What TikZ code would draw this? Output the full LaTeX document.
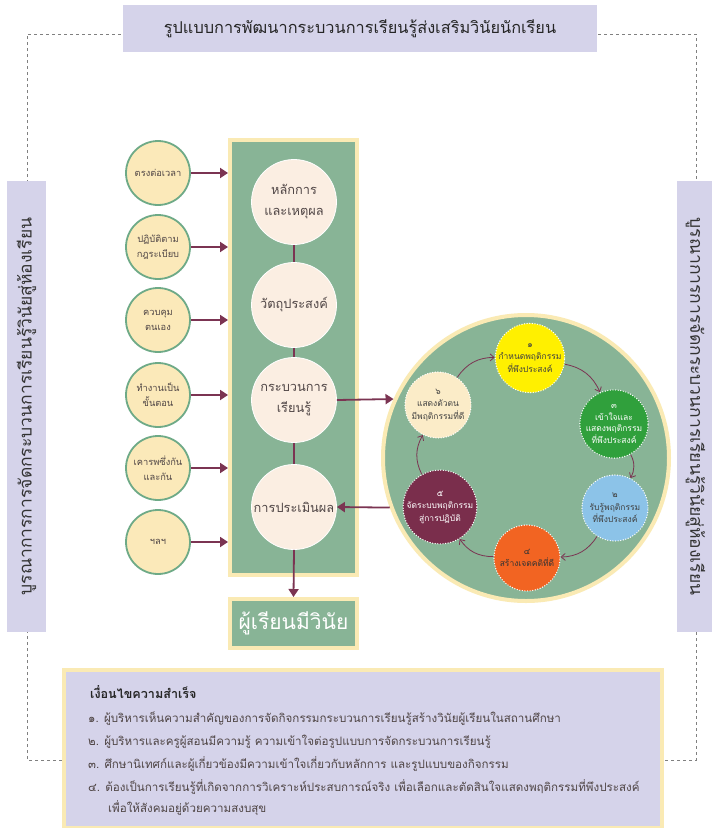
\documentclass[tikz,border=0pt]{standalone}
\usepackage{fontspec}
\setmainfont[Script=Thai]{Loma}
\usetikzlibrary{arrows.meta}
\definecolor{lav}{RGB}{213,211,234}
\definecolor{lyel}{RGB}{250,234,180}
\definecolor{sage}{RGB}{136,180,150}
\definecolor{cream}{RGB}{251,233,185}
\definecolor{cgreen}{RGB}{110,170,135}
\definecolor{peach}{RGB}{251,238,226}
\definecolor{maroon}{RGB}{123,52,82}
\definecolor{txtgray}{RGB}{80,70,70}
\definecolor{cyyel}{RGB}{255,240,0}
\definecolor{cygreen}{RGB}{48,160,60}
\definecolor{cyblue}{RGB}{140,195,232}
\definecolor{cyorange}{RGB}{242,100,34}
\definecolor{cymaroon}{RGB}{122,46,76}
\definecolor{cycream}{RGB}{251,236,200}
\begin{document}
\begin{tikzpicture}[x=1pt,y=-1pt,
  lavbox/.style={fill=lav, draw=none, inner sep=0pt},
  leftc/.style={circle, fill=cream, draw=cgreen, line width=1.8pt, minimum size=64pt, inner sep=0pt, align=center, font=\fontsize{9.3}{15}\selectfont, text=txtgray},
  midc/.style={circle, fill=peach, draw=white, line width=0.8pt, minimum size=85pt, inner sep=0pt, align=center, font=\fontsize{12.8}{21}\selectfont, text=txtgray},
  cyc/.style={circle, minimum size=66pt, inner sep=0pt, align=center, draw=white, line width=1.4pt, dash pattern=on 0pt off 2.6pt, line cap=round, font=\fontsize{8.5}{12.5}\selectfont},
  marrow/.style={draw=maroon, line width=1.8pt, -{Triangle[length=8pt,width=10pt]}},
  mline/.style={draw=maroon, line width=1.8pt},
  cycarrow/.style={draw=maroon, line width=0.8pt, -{Straight Barb[length=4pt,width=7pt]}},
  condtext/.style={anchor=base west, font=\fontsize{11.6}{13}\selectfont, text=txtgray, inner sep=0pt}
]
\useasboundingbox (0,0) rectangle (712,828);
\fill[white] (0,0) rectangle (712,828);
% dashed frame
\draw[gray, dashed, line width=0.8pt] (62,760) -- (27,760) -- (27,34) -- (696,34) -- (696,760) -- (657,760);
% title
\node[lavbox, minimum width=474pt, minimum height=47pt, font=\fontsize{16.3}{18}\selectfont, text=black!85] (title) at (360,28.5) {รูปแบบการพัฒนากระบวนการเรียนรู้ส่งเสริมวินัยนักเรียน};
% side boxes
\node[lavbox, rotate=90, minimum width=451pt, minimum height=39pt, font=\fontsize{17.5}{19}\selectfont, text=black!80] (lbox) at (26.5,406.5) {บูรณาการการจัดกระบวนการเรียนรู้วินัยสู่ห้องเรียน};
\node[lavbox, rotate=-90, minimum width=451pt, minimum height=37pt, font=\fontsize{17.5}{19}\selectfont, text=black!80] (rbox) at (695.5,406.5) {บูรณาการการจัดกระบวนการเรียนรู้วินัยสู่ห้องเรียน};
% green column
\node[fill=sage, draw=lyel, line width=4pt, minimum width=127pt, minimum height=435pt] (grect) at (293.5,357.5) {};
% left circles
\node[leftc] (l1) at (158,173) {ตรงต่อเวลา};
\node[leftc] (l2) at (158,247) {ปฏิบัติตาม\\กฎระเบียบ};
\node[leftc] (l3) at (158,320) {ควบคุม\\ตนเอง};
\node[leftc] (l4) at (158,395) {ทำงานเป็น\\ขั้นตอน};
\node[leftc] (l5) at (158,468) {เคารพซึ่งกัน\\และกัน};
\node[leftc] (l6) at (158,542) {ฯลฯ};
\foreach \i in {1,...,6} {\draw[marrow] (l\i.east) -- (l\i.east -| grect.west);}
% middle circles
\node[midc] (m1) at (294,202) {หลักการ\\และเหตุผล};
\node[midc] (m2) at (294,305) {วัตถุประสงค์};
\node[midc] (m3) at (294,400) {กระบวนการ\\เรียนรู้};
\node[midc] (m4) at (294,507) {การประเมินผล};
\draw[mline] (m1) -- (m2);
\draw[mline] (m2) -- (m3);
\draw[mline] (m3) -- (m4);
% goal box
\node[fill=sage, draw=lyel, line width=4pt, minimum width=127pt, minimum height=49pt, font=\fontsize{21}{24}\selectfont, text=white] (goal) at (293.5,623.5) {ผู้เรียนมีวินัย};
\draw[marrow] (m4.south) -- (goal.north);
% big circle
\node[circle, fill=sage, draw=lyel, line width=4pt, minimum size=286pt, inner sep=0pt] (big) at (526,458) {};
\draw[marrow] (m3.east) -- (big.156);
\draw[marrow] (big.200) -- (m4.east);
% cycle circles
\node[cyc, fill=cyyel, text=black!75] (c1) at (530,358) {๑\\กำหนดพฤติกรรม\\ที่พึงประสงค์};
\node[cyc, fill=cygreen, text=white, font=\fontsize{8.5}{11.5}\selectfont] (c3) at (614,424) {๓\\เข้าใจและ\\แสดงพฤติกรรม\\ที่พึงประสงค์};
\node[cyc, fill=cyblue, text=black!75] (c2) at (615,508) {๒\\รับรู้พฤติกรรม\\ที่พึงประสงค์};
\node[cyc, fill=cyorange, text=black!80] (c4) at (527,558) {๔\\สร้างเจตคติที่ดี};
\node[cyc, fill=cymaroon, text=white] (c5) at (440,507) {๕\\จัดระบบพฤติกรรม\\สู่การปฏิบัติ};
\node[cyc, fill=cycream, text=black!75] (c6) at (438,405) {๖\\แสดงตัวตน\\มีพฤติกรรมที่ดี};
\draw[cycarrow] (c6) to[bend left=28] (c1);
\draw[cycarrow] (c1) to[bend left=28] (c3);
\draw[cycarrow] (c3) to[bend left=28] (c2);
\draw[cycarrow] (c2) to[bend left=28] (c4);
\draw[cycarrow] (c4) to[bend left=28] (c5);
\draw[cycarrow] (c5) to[bend left=28] (c6);
% conditions box
\node[fill=lav, draw=lyel, line width=4pt, minimum width=598pt, minimum height=158pt, anchor=north west] (cbox) at (62,668) {};
\node[condtext, font=\bfseries\fontsize{12.6}{14}\selectfont, text=black!85] (h) at (90,698) {เงื่อนไขความสำเร็จ};
\node[condtext] (t1) at (88,722) {๑. ผู้บริหารเห็นความสำคัญของการจัดกิจกรรมกระบวนการเรียนรู้สร้างวินัยผู้เรียนในสถานศึกษา};
\node[condtext] (t2) at (88,745) {๒. ผู้บริหารและครูผู้สอนมีความรู้ ความเข้าใจต่อรูปแบบการจัดกระบวนการเรียนรู้};
\node[condtext] (t3) at (88,768) {๓. ศึกษานิเทศก์และผู้เกี่ยวข้องมีความเข้าใจเกี่ยวกับหลักการ และรูปแบบของกิจกรรม};
\node[condtext] (t4) at (88,791) {๔. ต้องเป็นการเรียนรู้ที่เกิดจากการวิเคราะห์ประสบการณ์จริง เพื่อเลือกและตัดสินใจแสดงพฤติกรรมที่พึงประสงค์};
\node[condtext] (t5) at (108,812) {เพื่อให้สังคมอยู่ด้วยความสงบสุข};
\end{tikzpicture}
\end{document}
